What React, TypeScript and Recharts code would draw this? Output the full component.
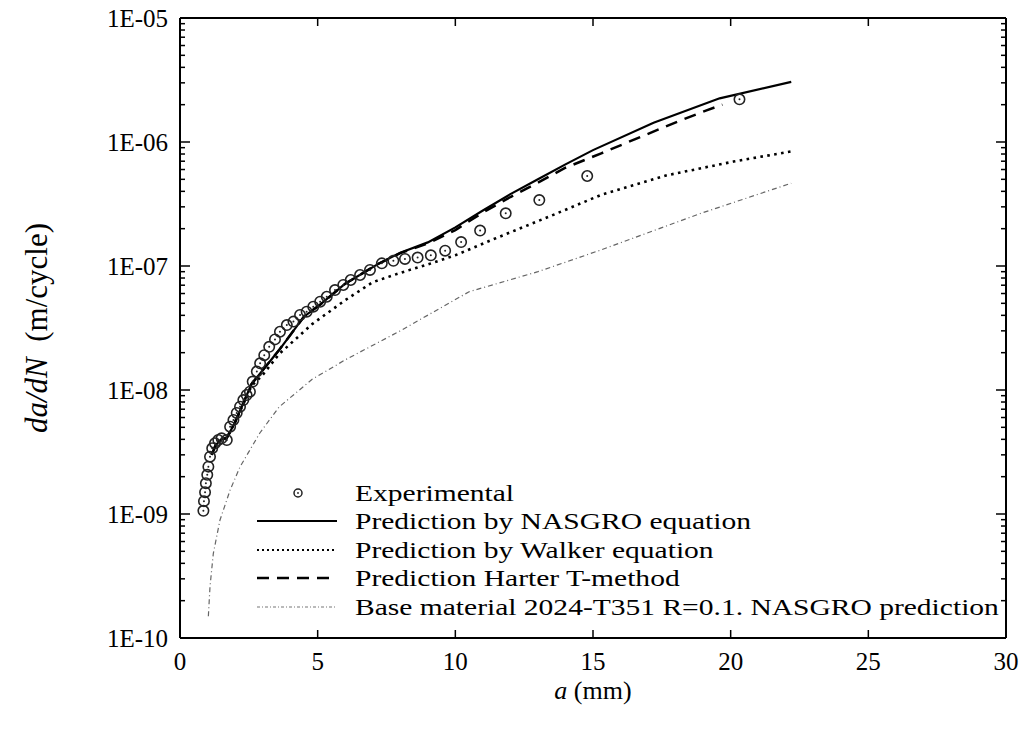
import React from "react";
import {
  ComposedChart,
  Line,
  Scatter,
  XAxis,
  YAxis,
  Legend,
} from "recharts";

// ---------- data ----------
const expA = [
  0.85, 0.87, 0.91, 0.94, 0.99, 1.03, 1.09, 1.17, 1.27, 1.39, 1.51, 1.7, 1.82,
  1.94, 2.06, 2.18, 2.3, 2.42, 2.54, 2.64, 2.79, 2.91, 3.06, 3.24, 3.45, 3.63,
  3.88, 4.12, 4.36, 4.6, 4.84, 5.09, 5.33, 5.63, 5.93, 6.2, 6.54, 6.9, 7.33,
  7.75, 8.17, 8.63, 9.11, 9.63, 10.21, 10.9, 11.83, 13.05, 14.79, 20.32,
];
const expV = [
  1.06e-9, 1.27e-9, 1.5e-9, 1.77e-9, 2.07e-9, 2.41e-9, 2.9e-9, 3.39e-9, 3.72e-9,
  3.95e-9, 4.08e-9, 3.95e-9, 5.06e-9, 5.73e-9, 6.53e-9, 7.33e-9, 8.3e-9,
  9.11e-9, 9.69e-9, 1.17e-8, 1.41e-8, 1.64e-8, 1.91e-8, 2.23e-8, 2.56e-8,
  2.95e-8, 3.34e-8, 3.56e-8, 4.03e-8, 4.28e-8, 4.7e-8, 5.15e-8, 5.65e-8, 6.4e-8,
  7.03e-8, 7.71e-8, 8.46e-8, 9.29e-8, 1.05e-7, 1.1e-7, 1.14e-7, 1.17e-7,
  1.22e-7, 1.33e-7, 1.56e-7, 1.93e-7, 2.66e-7, 3.4e-7, 5.32e-7, 2.21e-6,
];

const nasgroA = [
  1.15, 1.3, 1.5, 1.7, 2.0, 2.6, 3.6, 4.5, 5.1, 6.0, 7.2, 8.0, 9.0, 10.0, 11.0,
  12.0, 13.0, 14.0, 15.0, 17.2, 19.6, 22.2,
];
const nasgroV = [
  3.0e-9, 3.6e-9, 4.0e-9, 4.1e-9, 5.5e-9, 1.12e-8, 2.1e-8, 3.9e-8, 4.9e-8,
  7.2e-8, 1.04e-7, 1.28e-7, 1.55e-7, 2.05e-7, 2.8e-7, 3.8e-7, 5.0e-7, 6.6e-7,
  8.6e-7, 1.43e-6, 2.25e-6, 3.05e-6,
];

const walkerA = [
  1.15, 1.3, 1.5, 1.7, 2.0, 2.6, 3.0, 3.6, 4.8, 6.0, 7.0, 8.0, 9.0, 10.0, 11.4,
  13.4, 15.3, 17.7, 20.1, 22.2,
];
const walkerV = [
  3.0e-9, 3.6e-9, 4.0e-9, 4.1e-9, 5.5e-9, 1.08e-8, 1.32e-8, 1.95e-8, 3.4e-8,
  5.3e-8, 7.4e-8, 8.8e-8, 1.03e-7, 1.22e-7, 1.65e-7, 2.5e-7, 3.75e-7, 5.4e-7,
  6.95e-7, 8.4e-7,
];

const harterA = [
  1.15, 1.3, 1.5, 1.7, 2.0, 2.6, 3.6, 4.5, 5.1, 6.0, 7.2, 8.0, 9.0, 10.0, 11.0,
  12.0, 13.0, 14.0, 15.3, 16.6, 18.2, 19.1, 19.7,
];
const harterV = [
  3.0e-9, 3.6e-9, 4.0e-9, 4.1e-9, 5.5e-9, 1.12e-8, 2.1e-8, 3.9e-8, 4.9e-8,
  7.2e-8, 1.04e-7, 1.27e-7, 1.52e-7, 1.95e-7, 2.7e-7, 3.6e-7, 4.7e-7, 6.2e-7,
  8.1e-7, 1.07e-6, 1.5e-6, 1.79e-6, 2.0e-6,
];

const baseA = [
  1.03, 1.09, 1.21, 1.45, 1.82, 2.18, 2.9, 3.6, 4.8, 6.0, 8.0, 10.5, 13.0, 15.3,
  18.9, 22.2,
];
const baseV = [
  1.5e-10, 2.6e-10, 4.8e-10, 8.9e-10, 1.56e-9, 2.4e-9, 4.5e-9, 7.3e-9, 1.22e-8,
  1.75e-8, 3.0e-8, 6.2e-8, 9.0e-8, 1.35e-7, 2.65e-7, 4.65e-7,
];

const xTicks = [0, 5, 10, 15, 20, 25, 30];
const yMajorTicks = [1e-10, 1e-9, 1e-8, 1e-7, 1e-6, 1e-5];
const yMinorMultipliers = [2, 3, 4, 5, 6, 7, 8, 9];

const seriesNames = [
  "Experimental",
  "Prediction by NASGRO equation",
  "Prediction by Walker equation",
  "Prediction Harter T-method",
  "Base material 2024-T351 R=0.1. NASGRO prediction",
];

// ---------- helpers ----------
const zip = (a: number[], v: number[]) => a.map((x, i) => ({ a: x, v: v[i] }));
const expData = zip(expA, expV);
const nasgroData = zip(nasgroA, nasgroV);
const walkerData = zip(walkerA, walkerV);
const harterData = zip(harterA, harterV);
const baseData = zip(baseA, baseV);

const yAllTicks: number[] = [];
yMajorTicks.forEach((t, i) => {
  yAllTicks.push(t);
  if (i < yMajorTicks.length - 1)
    yMinorMultipliers.forEach((m) => yAllTicks.push(t * m));
});

const isMajor = (v: number) => {
  const l = Math.log10(v);
  return Math.abs(l - Math.round(l)) < 1e-6;
};
const fmtE = (v: number) => {
  const e = Math.round(Math.log10(v));
  const s = String(Math.abs(e)).padStart(2, "0");
  return `1E${e < 0 ? "-" : "+"}${s}`;
};

const FONT = "'Liberation Serif', 'Times New Roman', serif";
const TICK_FS = 25;

const LeftTick = (p: any) => {
  const { x, y, payload } = p;
  const major = isMajor(payload.value);
  return (
    <g>
      <line x1={x} x2={x + (major ? 10 : 5)} y1={y} y2={y} stroke="#000" strokeWidth={1.5} />
      {major && (
        <text
          x={x - 12}
          y={y}
          textAnchor="end"
          dominantBaseline="central"
          fontFamily={FONT}
          fontSize={TICK_FS}
          fill="#000"
        >
          {fmtE(payload.value)}
        </text>
      )}
    </g>
  );
};
const RightTick = (p: any) => {
  const { x, y, payload } = p;
  const major = isMajor(payload.value);
  return <line x1={x} x2={x - (major ? 10 : 5)} y1={y} y2={y} stroke="#000" strokeWidth={1.5} />;
};
const BottomTick = (p: any) => {
  const { x, y, payload } = p;
  return (
    <g>
      <line x1={x} x2={x} y1={y} y2={y - 8} stroke="#000" strokeWidth={1.5} />
      <text
        x={x}
        y={y + 23}
        textAnchor="middle"
        dominantBaseline="central"
        fontFamily={FONT}
        fontSize={TICK_FS}
        fill="#000"
      >
        {payload.value}
      </text>
    </g>
  );
};
const TopTick = (p: any) => {
  const { x, y } = p;
  return <line x1={x} x2={x} y1={y} y2={y + 8} stroke="#000" strokeWidth={1.5} />;
};

const ExpShape = (p: any) => {
  const { cx, cy } = p;
  if (cx == null || cy == null) return null;
  return (
    <g>
      <circle cx={cx} cy={cy} r={5.2} fill="none" stroke="#222" strokeWidth={1.6} />
      <circle cx={cx} cy={cy} r={1} fill="#222" />
    </g>
  );
};

const legendStyles = [
  null,
  { stroke: "#000", strokeWidth: 2.2, dash: undefined as string | undefined },
  { stroke: "#000", strokeWidth: 2.2, dash: "2 3" },
  { stroke: "#000", strokeWidth: 2.5, dash: "12 8" },
  { stroke: "#777", strokeWidth: 1.2, dash: "3 2 1 2" },
];

const LegendContent = () => (
  <div style={{ fontFamily: FONT, fontSize: 24, color: "#000" }}>
    {seriesNames.map((name, i) => {
      const st = legendStyles[i];
      return (
        <div key={name} style={{ display: "flex", alignItems: "center", height: 28.5, whiteSpace: "nowrap" }}>
          <svg width={80} height={20} style={{ flex: "none" }}>
            {st ? (
              <line
                x1={0}
                x2={80}
                y1={10}
                y2={10}
                stroke={st.stroke}
                strokeWidth={st.strokeWidth}
                strokeDasharray={st.dash}
              />
            ) : (
              <g>
                <circle cx={41} cy={10} r={4} fill="none" stroke="#222" strokeWidth={1.5} />
                <circle cx={41} cy={10} r={0.9} fill="#222" />
              </g>
            )}
          </svg>
          <span
            style={{
              marginLeft: 18,
              lineHeight: "26px",
              display: "inline-block",
              transform: "scaleX(1.23)",
              transformOrigin: "0 50%",
            }}
          >
            {name}
          </span>
        </div>
      );
    })}
  </div>
);

const YLabel = (p: any) => {
  const vb = p.viewBox;
  const x = vb.x - 44;
  const y = vb.y + vb.height / 2;
  return (
    <text
      x={x}
      y={y}
      transform={`rotate(-90 ${x} ${y})`}
      textAnchor="middle"
      dominantBaseline="central"
      fontFamily={FONT}
      fontSize={31}
      fill="#000"
    >
      <tspan fontStyle="italic">da/dN</tspan>
      <tspan>{"\u00a0 (m/cycle)"}</tspan>
    </text>
  );
};
const XLabel = (p: any) => {
  const vb = p.viewBox;
  const x = vb.x + vb.width / 2;
  const y = vb.y + 52;
  return (
    <text x={x} y={y} textAnchor="middle" dominantBaseline="central" fontFamily={FONT} fontSize={26} fill="#000">
      <tspan fontStyle="italic">a</tspan>
      <tspan>{" (mm)"}</tspan>
    </text>
  );
};

export default function App() {
  const axisLine = { stroke: "#000", strokeWidth: 2 };
  return (
    <div style={{ width: 1027, height: 732, margin: "-8px 0 0 -8px", background: "#fff" }}>
      <ComposedChart
        width={1027}
        height={732}
        margin={{ top: 17, right: 20, bottom: 44, left: 80 }}
        style={{ background: "#fff" }}
      >
        <XAxis
          xAxisId="bottom"
          dataKey="a"
          type="number"
          domain={[0, 30]}
          ticks={xTicks}
          interval={0}
          allowDataOverflow
          height={50}
          tickSize={0}
          tickMargin={0}
          tick={<BottomTick />}
          tickLine={false}
          axisLine={axisLine}
          label={<XLabel />}
        />
        <XAxis
          xAxisId="top"
          orientation="top"
          dataKey="a"
          type="number"
          domain={[0, 30]}
          ticks={xTicks.slice(1, -1)}
          interval={0}
          allowDataOverflow
          height={1}
          tickSize={0}
          tickMargin={0}
          tick={<TopTick />}
          tickLine={false}
          axisLine={axisLine}
        />
        <YAxis
          yAxisId="left"
          dataKey="v"
          type="number"
          scale="log"
          domain={[1e-10, 1e-5]}
          ticks={yAllTicks}
          interval={0}
          allowDataOverflow
          width={100}
          tickSize={0}
          tickMargin={0}
          tick={<LeftTick />}
          tickLine={false}
          axisLine={axisLine}
          label={<YLabel />}
        />
        <YAxis
          yAxisId="right"
          orientation="right"
          type="number"
          scale="log"
          domain={[1e-10, 1e-5]}
          ticks={yAllTicks}
          interval={0}
          allowDataOverflow
          width={1}
          tickSize={0}
          tickMargin={0}
          tick={<RightTick />}
          tickLine={false}
          axisLine={axisLine}
        />
        <Line
          xAxisId="bottom"
          yAxisId="left"
          data={baseData}
          dataKey="v"
          name={seriesNames[4]}
          type="linear"
          stroke="#666"
          strokeWidth={1.2}
          strokeDasharray="5 3 1 3"
          dot={false}
          activeDot={false}
          isAnimationActive={false}
        />
        <Line
          xAxisId="bottom"
          yAxisId="left"
          data={walkerData}
          dataKey="v"
          name={seriesNames[2]}
          type="linear"
          stroke="#000"
          strokeWidth={2.6}
          strokeDasharray="2.6 4.4"
          dot={false}
          activeDot={false}
          isAnimationActive={false}
        />
        <Line
          xAxisId="bottom"
          yAxisId="left"
          data={harterData}
          dataKey="v"
          name={seriesNames[3]}
          type="linear"
          stroke="#000"
          strokeWidth={2.5}
          strokeDasharray="12 8"
          dot={false}
          activeDot={false}
          isAnimationActive={false}
        />
        <Line
          xAxisId="bottom"
          yAxisId="left"
          data={nasgroData}
          dataKey="v"
          name={seriesNames[1]}
          type="linear"
          stroke="#000"
          strokeWidth={2.2}
          dot={false}
          activeDot={false}
          isAnimationActive={false}
        />
        <Scatter
          xAxisId="bottom"
          yAxisId="left"
          data={expData}
          dataKey="v"
          name={seriesNames[0]}
          shape={<ExpShape />}
          isAnimationActive={false}
        />
        <Legend
          layout="vertical"
          align="center"
          verticalAlign="middle"
          content={<LegendContent />}
          wrapperStyle={{ left: 257, top: 478.5, width: 760, height: "auto" }}
        />
      </ComposedChart>
    </div>
  );
}
